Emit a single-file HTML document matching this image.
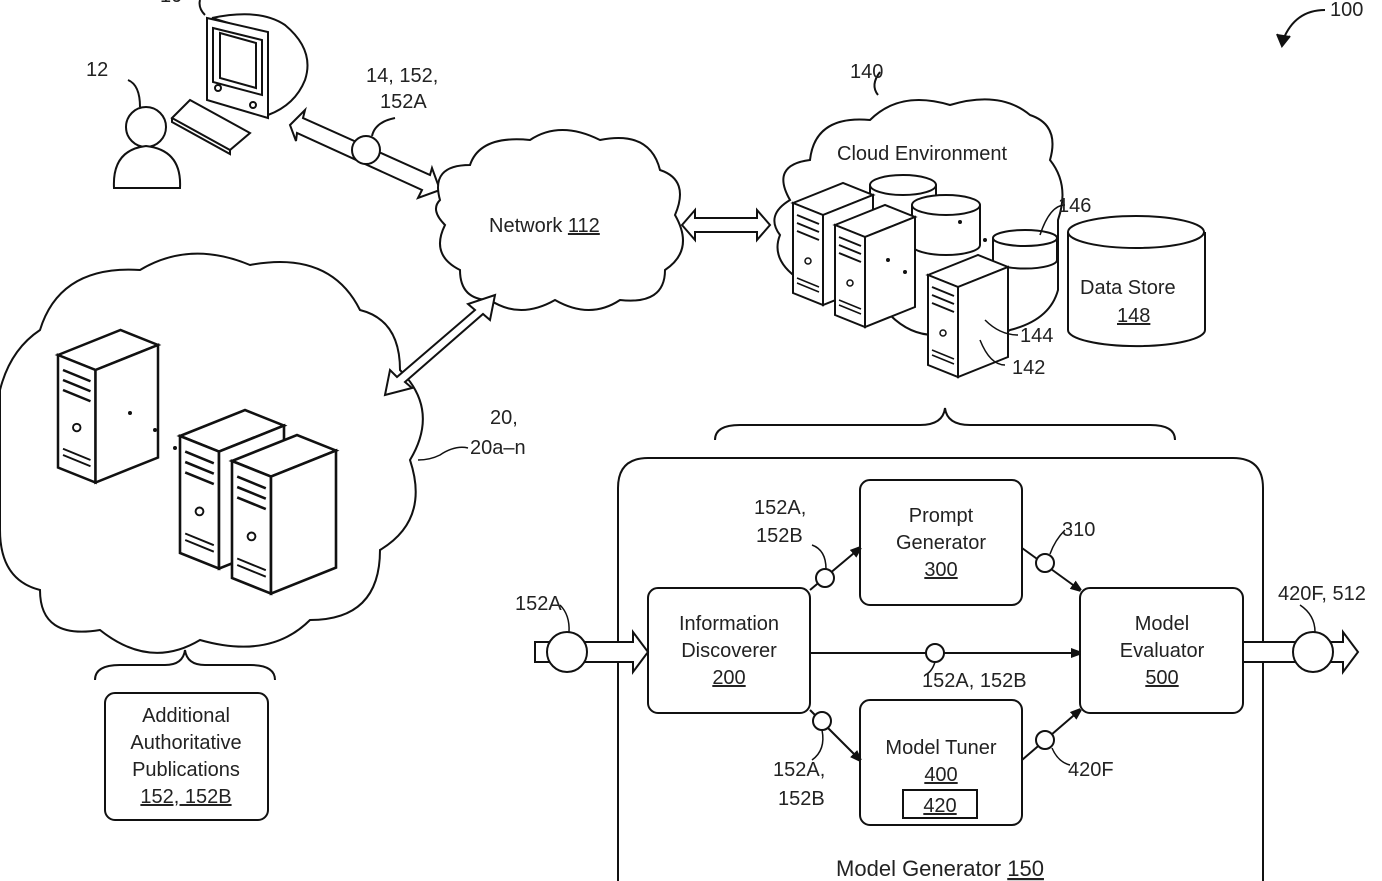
<!DOCTYPE html>
<html><head><meta charset="utf-8"><style>
html,body{margin:0;padding:0;background:#fff;}
svg{display:block;font-family:"Liberation Sans",sans-serif;}
text{font-size:20px;fill:#222;}
</style></head><body>
<svg width="1382" height="881" viewBox="0 0 1382 881" xmlns="http://www.w3.org/2000/svg">
<defs>
<marker id="ah" markerWidth="10" markerHeight="10" refX="9" refY="5" orient="auto" markerUnits="userSpaceOnUse"><path d="M0,0 L14,5 L0,10 z" fill="#111"/></marker>
<g id="srv">
<path d="M0,20 L50,0 L80,12 L30,32 z" fill="#fff" stroke="#111" stroke-width="2"/>
<path d="M0,20 L30,32 L30,122 L0,110 z" fill="#fff" stroke="#111" stroke-width="2"/>
<path d="M30,32 L80,12 L80,102 L30,122 z" fill="#fff" stroke="#111" stroke-width="2"/>
<line x1="4" y1="32" x2="26" y2="41" stroke="#111" stroke-width="2"/>
<line x1="4" y1="40" x2="26" y2="49" stroke="#111" stroke-width="2"/>
<line x1="4" y1="48" x2="26" y2="57" stroke="#111" stroke-width="2"/>
<circle cx="15" cy="78" r="3" fill="none" stroke="#111" stroke-width="1.5"/>
<line x1="4" y1="95" x2="26" y2="104" stroke="#111" stroke-width="1.5"/>
<line x1="4" y1="100" x2="26" y2="109" stroke="#111" stroke-width="1.5"/>
</g>
</defs>
<g fill="none" stroke="#111" stroke-width="2">
<path d="M1325,10 Q1295,10 1283,40"/><path d="M1277,34 L1282,46 L1290,36" fill="#111"/>
<path d="M212,18 Q260,8 285,25 Q315,50 305,80 Q295,105 268,115 L268,35 z" fill="#fff"/>
<path d="M207,18 L268,32 L268,118 L207,100 z" fill="#fff"/>
<path d="M213,28 L262,40 L262,95 L213,82 z" fill="#fff"/>
<path d="M220,33 L256,43 L256,88 L220,78 z" fill="#fff"/>
<circle cx="218" cy="88" r="3"/><circle cx="253" cy="105" r="3"/>
<path d="M172,118 L190,100 L250,133 L230,150 z" fill="#fff"/>
<path d="M172,118 L172,122 L230,154 L230,150"/>
<path d="M205,15 Q198,8 200,0"/>
<circle cx="146" cy="127" r="20" fill="#fff"/>
<path d="M114,188 Q112,150 146,146 Q182,150 180,188 z" fill="#fff"/>
<path d="M140,107 Q140,85 128,80" />
<path d="M290,125 L305,110 L303,118 L430,175 L432,168 L440,190 L418,198 L422,190 L297,133 L296,141 z" fill="#fff"/>
<circle cx="366" cy="150" r="14" fill="#fff"/>
<path d="M372,136 Q375,122 395,118"/>
<path d="M440,200 Q430,165 470,165 Q480,135 530,140 Q560,120 600,140 Q650,130 660,170 Q690,180 675,215 Q695,250 665,270 Q665,305 620,300 Q590,320 555,300 Q520,320 490,300 Q460,300 460,270 Q430,255 445,225 Q430,210 440,200 z" fill="#fff"/>
<path d="M682,225 L695,210 L695,218 L757,218 L757,210 L770,225 L757,240 L757,232 L695,232 L695,240 z" fill="#fff"/>
<path d="M790,200 Q770,165 810,160 Q815,115 870,120 Q900,90 950,105 Q1000,90 1030,115 Q1060,125 1050,160 Q1070,185 1058,220 L1058,290 Q1050,320 1010,330 Q990,345 960,330 Q920,345 890,315 Q860,320 840,300 L800,280 Q770,260 780,235 Q765,215 790,200 z" fill="#fff"/>
<path d="M878,95 Q870,85 880,72"/>
</g>
<g fill="#fff" stroke="#111" stroke-width="2">
<path d="M870,185 L870,235 A33,10 0 0 0 936,235 L936,185"/><ellipse cx="903" cy="185" rx="33" ry="10"/>
<path d="M912,205 L912,245 A34,10 0 0 0 980,245 L980,205"/><ellipse cx="946" cy="205" rx="34" ry="10"/>
<path d="M993,238 L993,260 A30,8 0 0 0 1057,260 L1057,238"/><ellipse cx="1025" cy="238" rx="32" ry="8"/>
<path d="M1068,232 L1068,330 A68,16 0 0 0 1205,330 L1205,232"/><ellipse cx="1136" cy="232" rx="68" ry="16"/>
</g>
<use href="#srv" x="793" y="183"/>
<use href="#srv" x="835" y="205"/>
<use href="#srv" x="928" y="255"/>
<g fill="#111"><circle cx="888" cy="260" r="2"/><circle cx="905" cy="272" r="2"/><circle cx="960" cy="222" r="2"/><circle cx="985" cy="240" r="2"/></g>
<g fill="none" stroke="#111" stroke-width="1.5">
<path d="M1040,235 Q1050,205 1065,205"/>
<path d="M985,320 Q1000,335 1018,335"/>
<path d="M980,340 Q990,365 1005,365"/>
</g>
<path d="M40,330 Q60,265 140,270 Q190,240 250,265 Q330,250 360,310 Q400,320 400,370 Q440,410 410,460 Q430,520 380,550 Q380,620 310,620 Q270,660 200,640 Q150,670 100,630 Q40,640 40,590 Q0,580 0,530 L0,390 Q10,350 40,330 z" fill="#fff" stroke="#111" stroke-width="2"/>
<path d="M385,395 L390,370 L397,377 L475,310 L468,304 L495,295 L490,320 L483,314 L405,382 L412,388 z" fill="#fff" stroke="#111" stroke-width="2"/>
<path d="M418,460 Q430,460 440,455 Q455,445 468,448" fill="none" stroke="#111" stroke-width="1.5"/>
<g transform="translate(58,330) scale(1.25)"><use href="#srv"/></g>
<g transform="translate(180,410) scale(1.3)"><use href="#srv"/></g>
<g transform="translate(232,435) scale(1.3)"><use href="#srv"/></g>
<g fill="#111"><circle cx="130" cy="413" r="2"/><circle cx="155" cy="430" r="2"/><circle cx="175" cy="448" r="2"/></g>
<g fill="none" stroke="#111" stroke-width="2">
<path d="M95,680 Q95,665 120,665 L165,665 Q183,665 185,650 Q187,665 205,665 L250,665 Q275,665 275,680"/>
<path d="M715,440 Q715,425 740,425 L920,425 Q943,425 945,408 Q947,425 970,425 L1150,425 Q1175,425 1175,440"/>
</g>
<rect x="105" y="693" width="163" height="127" rx="10" fill="#fff" stroke="#111" stroke-width="2"/>
<path d="M618,881 L618,488 Q618,458 648,458 L1233,458 Q1263,458 1263,488 L1263,881" fill="none" stroke="#111" stroke-width="2"/>
<g fill="#fff" stroke="#111" stroke-width="2">
<rect x="648" y="588" width="162" height="125" rx="10"/>
<rect x="860" y="480" width="162" height="125" rx="10"/>
<rect x="860" y="700" width="162" height="125" rx="10"/>
<rect x="903" y="790" width="74" height="28"/>
<rect x="1080" y="588" width="163" height="125" rx="10"/>
<path d="M535,642 L633,642 L633,632 L648,652 L633,672 L633,662 L535,662 z"/>
<path d="M1243,642 L1343,642 L1343,632 L1358,652 L1343,672 L1343,662 L1243,662 z"/>
<circle cx="567" cy="652" r="20"/>
<circle cx="1313" cy="652" r="20"/>
</g>
<g fill="none" stroke="#111" stroke-width="2" marker-end="url(#ah)">
<path d="M810,590 L860,548"/>
<path d="M810,710 L860,760"/>
<path d="M810,653 L1080,653"/>
<path d="M1022,548 L1080,590"/>
<path d="M1022,760 L1080,710"/>
</g>
<g fill="#fff" stroke="#111" stroke-width="2">
<circle cx="825" cy="578" r="9"/><circle cx="822" cy="721" r="9"/><circle cx="935" cy="653" r="9"/>
<circle cx="1045" cy="563" r="9"/><circle cx="1045" cy="740" r="9"/>
</g>
<g fill="none" stroke="#111" stroke-width="1.5">
<path d="M826,569 Q826,550 812,545"/><path d="M822,730 Q826,750 812,760"/>
<path d="M935,662 Q932,672 925,675"/><path d="M1050,554 Q1055,540 1065,530"/>
<path d="M1052,748 Q1058,762 1070,765"/><path d="M569,632 Q570,615 560,605"/>
<path d="M1315,632 Q1315,615 1300,605"/>
</g>
<text x="1330" y="16">100</text>
<text x="86" y="76">12</text>
<text x="160" y="2">10</text>
<text x="366" y="82">14, 152,</text>
<text x="380" y="108">152A</text>
<text x="489" y="232">Network <tspan text-decoration="underline">112</tspan></text>
<text x="850" y="78">140</text>
<text x="837" y="160">Cloud Environment</text>
<text x="1058" y="212">146</text>
<text x="1080" y="294">Data Store</text>
<text x="1117" y="322" text-decoration="underline">148</text>
<text x="1020" y="342">144</text>
<text x="1012" y="374">142</text>
<text x="490" y="424">20,</text>
<text x="470" y="454">20a–n</text>
<g text-anchor="middle">
<text x="186" y="722">Additional</text>
<text x="186" y="749">Authoritative</text>
<text x="186" y="776">Publications</text>
<text x="186" y="803" text-decoration="underline">152, 152B</text>
<text x="729" y="630">Information</text>
<text x="729" y="657">Discoverer</text>
<text x="729" y="684" text-decoration="underline">200</text>
<text x="941" y="522">Prompt</text>
<text x="941" y="549">Generator</text>
<text x="941" y="576" text-decoration="underline">300</text>
<text x="941" y="754">Model Tuner</text>
<text x="941" y="781" text-decoration="underline">400</text>
<text x="940" y="812" text-decoration="underline">420</text>
<text x="1162" y="630">Model</text>
<text x="1162" y="657">Evaluator</text>
<text x="1162" y="684" text-decoration="underline">500</text>
<text x="940" y="876" style="font-size:22px">Model Generator <tspan text-decoration="underline">150</tspan></text>
</g>
<text x="754" y="514">152A,</text>
<text x="756" y="542">152B</text>
<text x="1062" y="536">310</text>
<text x="515" y="610">152A</text>
<text x="1278" y="600">420F, 512</text>
<text x="922" y="687">152A, 152B</text>
<text x="773" y="776">152A,</text>
<text x="778" y="805">152B</text>
<text x="1068" y="776">420F</text>
</svg>
</body></html>
